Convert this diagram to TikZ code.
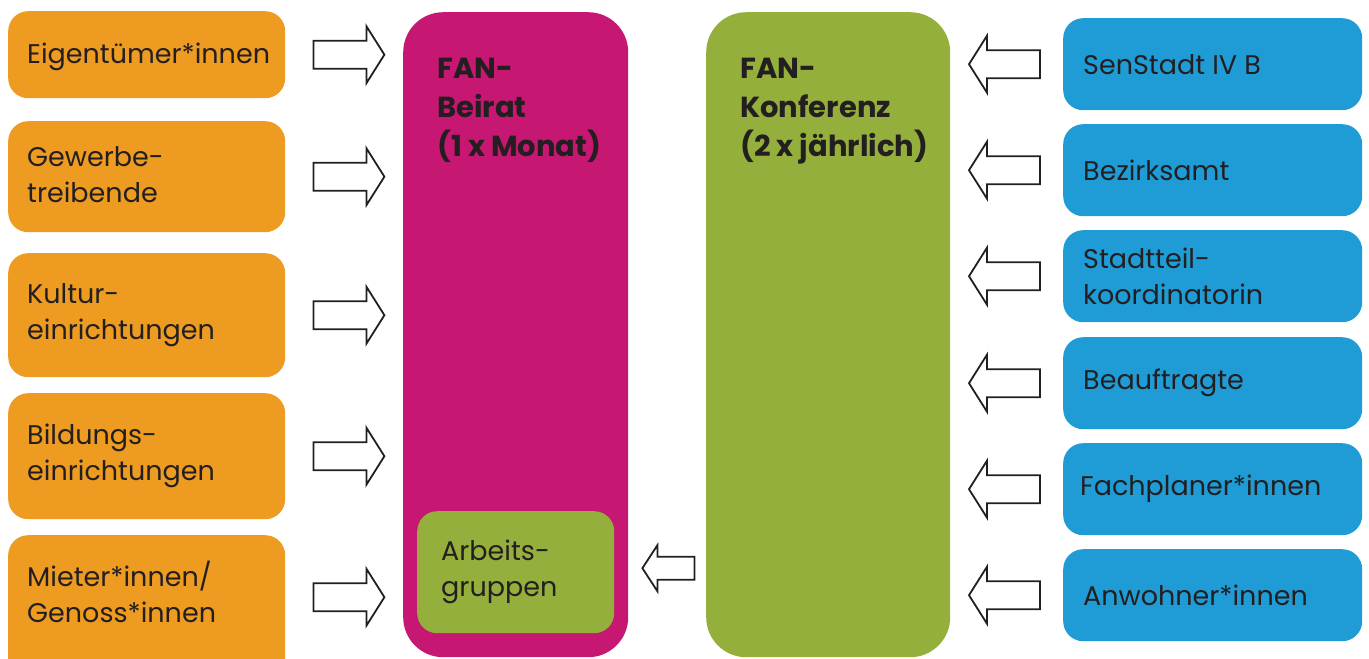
\documentclass[tikz,border=0pt]{standalone}
\usepackage{fontspec}
\setmainfont{Poppins}
\usetikzlibrary{calc}
\definecolor{cOrange}{HTML}{EE9B21}
\definecolor{cMagenta}{HTML}{C61772}
\definecolor{cGreen}{HTML}{94AF3B}
\definecolor{cBlue}{HTML}{1F9CD5}
\definecolor{cText}{HTML}{231F20}
\begin{document}
\begin{tikzpicture}[x=1pt,y=-1pt,
  box/.style={rounded corners=20pt, inner sep=0pt, anchor=north west, draw=none},
  bigbox/.style={rounded corners=40pt, inner sep=0pt, anchor=north west, draw=none},
  txt/.style={inner sep=0pt, anchor=west, align=left, text=cText, font=\fontsize{27}{36}\selectfont},
  head/.style={inner sep=0pt, anchor=north west, align=left, text=cText, font=\fontsize{29}{39}\selectfont\bfseries},
  arrowline/.style={draw=cText, line width=1.8pt, fill=white, line join=miter},
  pics/rarrow/.style={code={\draw[arrowline] (0,-14) -- (53,-14) -- (53,-28.5) -- (71,0) -- (53,28.5) -- (53,14) -- (0,14) -- cycle;}},
  pics/larrow/.style={code={\draw[arrowline] (0,-14) -- (-53,-14) -- (-53,-28.5) -- (-71,0) -- (-53,28.5) -- (-53,14) -- (0,14) -- cycle;}},
  pics/sarrow/.style={code={\draw[arrowline] (0,-11.5) -- (-37,-11.5) -- (-37,-23) -- (-52,0) -- (-37,23) -- (-37,11.5) -- (0,11.5) -- cycle;}}
]
\useasboundingbox (0,0) rectangle (1369,659);
\clip (0,0) rectangle (1369,659);
% orange boxes
\node[box, fill=cOrange, minimum width=277pt, minimum height=87pt] (o1) at (8,11) {};
\node[box, fill=cOrange, minimum width=277pt, minimum height=111pt] (o2) at (8,121) {};
\node[box, fill=cOrange, minimum width=277pt, minimum height=124pt] (o3) at (8,253) {};
\node[box, fill=cOrange, minimum width=277pt, minimum height=126pt] (o4) at (8,393) {};
\node[box, fill=cOrange, minimum width=277pt, minimum height=150pt] (o5) at (8,535) {};
\node[txt] (to1) at ($(o1.west)+(19,2)$) {Eigentümer*innen};
\node[txt] (to2) at ($(o2.west)+(19,-2)$) {Gewerbe-\\treibende};
\node[txt] (to3) at ($(o3.west)+(19,0)$) {Kultur-\\einrichtungen};
\node[txt] (to4) at ($(o4.west)+(19,0)$) {Bildungs-\\einrichtungen};
\node[txt] (to5) at ($(o5.north west)+(19,57)$) {Mieter*innen/\\Genoss*innen};
% big boxes
\node[bigbox, fill=cMagenta, minimum width=225pt, minimum height=645pt] (beirat) at (403,12) {};
\node[bigbox, fill=cGreen, minimum width=244pt, minimum height=645pt] (konf) at (706,12) {};
\node[head] (hb) at (437,58) {FAN-\\Beirat\\(1 x Monat)};
\node[head] (hk) at (740,58) {FAN-\\Konferenz\\(2 x jährlich)};
\node[box, fill=cGreen, minimum width=197pt, minimum height=122pt] (ag) at (417,511) {};
\node[txt] (tag) at ($(ag.west)+(24,0)$) {Arbeits-\\gruppen};
% blue boxes
\node[box, fill=cBlue, minimum width=299pt, minimum height=92pt] (b1) at (1063,18) {};
\node[box, fill=cBlue, minimum width=299pt, minimum height=92pt] (b2) at (1063,124) {};
\node[box, fill=cBlue, minimum width=299pt, minimum height=92pt] (b3) at (1063,230) {};
\node[box, fill=cBlue, minimum width=299pt, minimum height=92pt] (b4) at (1063,337) {};
\node[box, fill=cBlue, minimum width=299pt, minimum height=92pt] (b5) at (1063,443) {};
\node[box, fill=cBlue, minimum width=299pt, minimum height=92pt] (b6) at (1063,549) {};
\node[txt] (tb1) at ($(b1.west)+(20,0)$) {SenStadt IV B};
\node[txt] (tb2) at ($(b2.west)+(20,0)$) {Bezirksamt};
\node[txt] (tb3) at ($(b3.west)+(20,0)$) {Stadtteil-\\koordinatorin};
\node[txt] (tb4) at ($(b4.west)+(20,0)$) {Beauftragte};
\node[txt] (tb5) at ($(b5.west)+(17,0)$) {Fachplaner*innen};
\node[txt] (tb6) at ($(b6.west)+(20,0)$) {Anwohner*innen};
% arrows
\pic at ($(o1.east)+(28,0)$) {rarrow};
\pic at ($(o2.east)+(28,0)$) {rarrow};
\pic at ($(o3.east)+(28,0)$) {rarrow};
\pic at ($(o4.east)+(28,0)$) {rarrow};
\pic at ($(o4.east)+(28,141)$) {rarrow};
\pic at ($(b1.west)+(-23,0)$) {larrow};
\pic at ($(b2.west)+(-23,0)$) {larrow};
\pic at ($(b3.west)+(-23,0)$) {larrow};
\pic at ($(b4.west)+(-23,0)$) {larrow};
\pic at ($(b5.west)+(-23,0)$) {larrow};
\pic at ($(b6.west)+(-23,0)$) {larrow};
\pic at ($(ag.east)+(80,-4)$) {sarrow};
\end{tikzpicture}
\end{document}
